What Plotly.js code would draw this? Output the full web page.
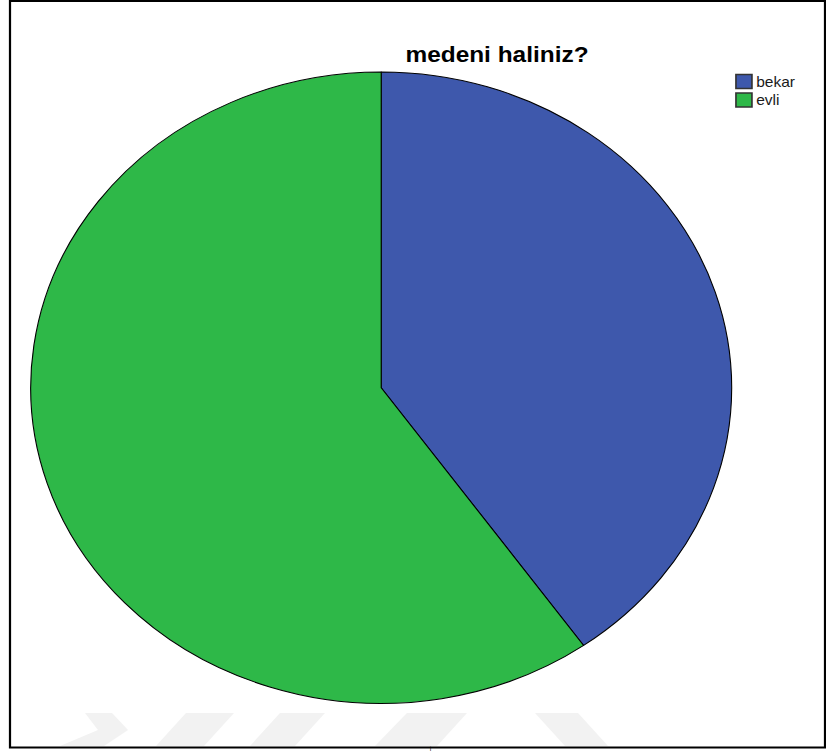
<!DOCTYPE html>
<html>
<head>
<meta charset="utf-8">
<script src="https://cdn.plot.ly/plotly-3.0.1.min.js"></script>
<style>
  html, body { margin: 0; padding: 0; background: #ffffff; overflow: hidden; }
  #chart { width: 744px; height: 753px; transform-origin: 0 0; }
</style>
</head>
<body>
<div id="chart"></div>
<script>
// ---- data ----
const categories = ["bekar", "evli"];
const percentages = [40.2, 59.8];
const sliceColors = ["#3E58AC", "#2EB848"];
const chartTitle = "medeni haliniz?";

// ---- geometry helpers (reference image is horizontally stretched) ----
const W0 = 744, H = 753, SX = 826 / W0;
document.getElementById('chart').style.transform = 'scaleX(' + SX + ')';
const fx = xr => (xr / SX) / W0;      // reference px -> paper x
const fy = yr => 1 - yr / H;          // reference px -> paper y

// pie placement (reference: centre 381,388; radius ~351 x 316)
const cx = 381.2 / SX, cy = 387.7, r = 315.7;
const dom = { x: [(cx - r) / W0, (cx + r) / W0], y: [1 - (cy + r) / H, 1 - (cy - r) / H] };

// faint watermark stripes below the pie
const stripes = [
  [[85,713],[112,713],[128,730],[104,746],[60,746],[98,730]],
  [[186,713],[234,713],[204,746],[156,746]],
  [[280,713],[325,713],[295,746],[250,746]],
  [[407,713],[467,713],[437,746],[375,746]],
  [[535,713],[578,713],[608,746],[565,746]]
];
const stripeShapes = stripes.map(pts => ({
  type: 'path', xref: 'paper', yref: 'paper', layer: 'below',
  path: 'M' + pts.map(p => fx(p[0]) + ',' + fy(p[1])).join('L') + 'Z',
  fillcolor: '#f2f2f2', line: { width: 0 }
}));

const frame = {
  type: 'rect', xref: 'paper', yref: 'paper', layer: 'above',
  x0: fx(10), x1: fx(825), y0: fy(747.5), y1: fy(1),
  line: { color: '#000000', width: 2 }, fillcolor: 'rgba(0,0,0,0)'
};

const trace = {
  type: 'pie',
  labels: categories,
  values: percentages,
  sort: false,
  direction: 'clockwise',
  rotation: 0,
  textinfo: 'none',
  hoverinfo: 'label+percent',
  marker: { colors: sliceColors, line: { color: '#000000', width: 1 } },
  domain: dom
};

const layout = {
  width: W0, height: H,
  margin: { l: 0, r: 0, t: 0, b: 0, pad: 0 },
  paper_bgcolor: '#ffffff',
  plot_bgcolor: '#ffffff',
  font: { family: '"Liberation Sans", Arial, sans-serif', color: '#000000' },
  title: {
    text: chartTitle,
    font: { family: '"Liberation Sans", Arial, sans-serif', size: 22, weight: 'bold', color: '#000000' },
    x: fx(497), xanchor: 'center', xref: 'paper',
    y: fy(54.5), yanchor: 'middle', yref: 'container'
  },
  showlegend: true,
  legend: {
    x: (670.1 - 20) / W0, xanchor: 'left',
    y: fy(66), yanchor: 'top',
    bgcolor: 'rgba(0,0,0,0)', borderwidth: 0,
    font: { family: '"Liberation Sans", Arial, sans-serif', size: 14, color: '#1a1a1a' },
    traceorder: 'normal'
  },
  shapes: stripeShapes.concat([frame]),
  annotations: [{
    text: 'İ', xref: 'paper', yref: 'paper', x: fx(430), y: 0, xanchor: 'center', yanchor: 'bottom',
    borderpad: 0, showarrow: false,
    font: { family: '"Liberation Sans", Arial, sans-serif', size: 5, color: '#000000' }
  }]
};

Plotly.newPlot('chart', [trace], layout, { displayModeBar: false, staticPlot: true }).then(() => {
  // SPSS-style legend: bigger swatches, tight text gap, compact rows
  document.querySelectorAll('.legend path.legendpie').forEach(p => {
    p.setAttribute('d', 'M7.2,7H-7.2V-7H7.2Z');
    p.style.stroke = '#333333';
    p.style.strokeWidth = '1.5px';
  });
  document.querySelectorAll('.legendtext').forEach(t => t.setAttribute('x', 31));
  const items = Array.from(document.querySelectorAll('.legend .traces'));
  if (items.length > 1) {
    const m = /translate\(\s*([-\d.]+)[ ,]+([-\d.]+)\s*\)/.exec(items[0].getAttribute('transform') || '');
    if (m) {
      const x0 = parseFloat(m[1]), y0 = parseFloat(m[2]);
      items.forEach((it, i) => it.setAttribute('transform', 'translate(' + x0 + ',' + (y0 + i * 18.3) + ')'));
    }
  }
});
</script>
</body>
</html>
